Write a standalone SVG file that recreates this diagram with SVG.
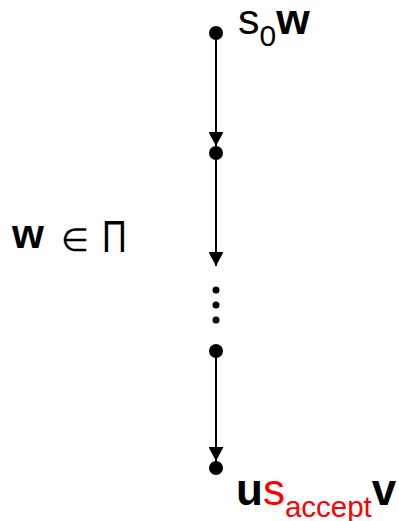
<svg xmlns="http://www.w3.org/2000/svg" width="399" height="521" viewBox="0 0 399 521">
<style>
.edge{stroke:#000;stroke-width:2;fill:none}
.dot{fill:#000}
.t{font-family:"Liberation Sans",Arial,sans-serif;fill:#000}
.b{font-weight:bold}
.red{fill:#ff0000}
</style>
<defs>
<marker id="ah" markerUnits="userSpaceOnUse" markerWidth="16" markerHeight="15" refX="14" refY="7.5" orient="auto">
<path d="M0,0 L14,7.5 L0,15 Z" fill="#000"/>
</marker>
</defs>
<rect width="399" height="521" fill="#fff"/>
<g id="connectors">
<line class="edge" x1="216" y1="33" x2="216" y2="146" marker-end="url(#ah)"/>
<line class="edge" x1="216" y1="153" x2="216" y2="266" marker-end="url(#ah)"/>
<line class="edge" x1="216" y1="351" x2="216" y2="461" marker-end="url(#ah)"/>
</g>
<g id="n0">
<circle class="dot" cx="216" cy="33" r="7"/>
<text class="t" x="238" y="34" font-size="43">s<tspan font-size="30" dy="12">0</tspan><tspan class="b" dy="-12">w</tspan></text>
</g>
<g id="n1">
<circle class="dot" cx="216" cy="153" r="7"/>
</g>
<g id="ellipsis">
<circle class="dot" cx="216" cy="290" r="3.5"/>
<circle class="dot" cx="216" cy="305" r="3.5"/>
<circle class="dot" cx="216" cy="320" r="3.5"/>
</g>
<g id="n2">
<circle class="dot" cx="216" cy="351" r="7"/>
</g>
<g id="n3">
<circle class="dot" cx="216" cy="468" r="7"/>
<text class="t" x="236" y="505" font-size="44"><tspan class="b">u</tspan><tspan class="red">s</tspan><tspan class="red" font-size="29.5" dy="12">accept</tspan><tspan class="b" dy="-12">v</tspan></text>
</g>
<g id="label">
<text class="t b" x="12" y="248" font-size="41">w</text>
<text class="t" x="61" y="251" font-size="32" font-family="DejaVu Sans,sans-serif">∈</text>
<text class="t" transform="translate(102,252) scale(0.78,1)" font-size="44">Π</text>
</g>
</svg>
